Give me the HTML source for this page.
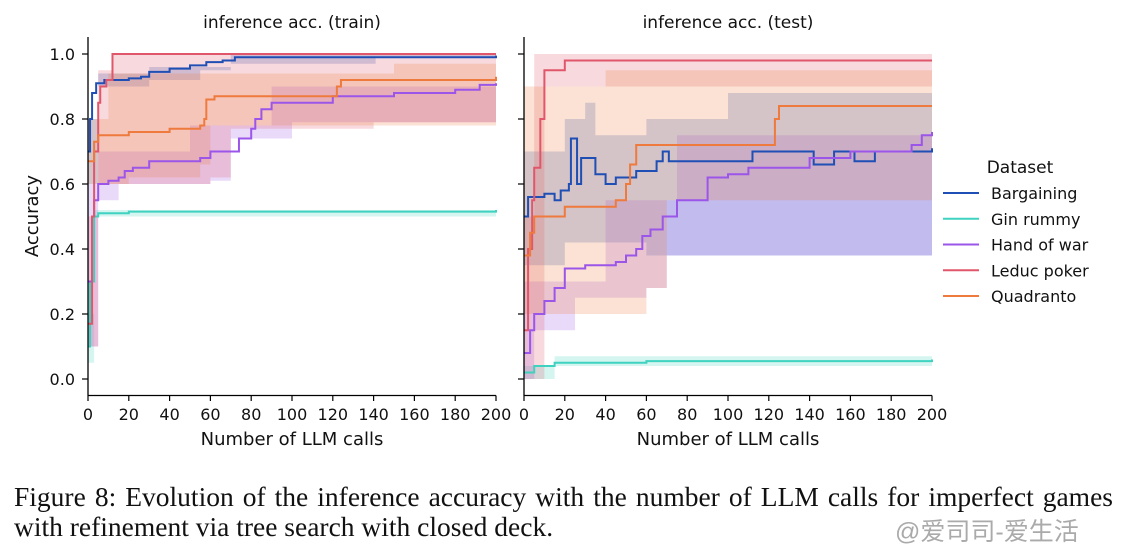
<!DOCTYPE html>
<html><head><meta charset="utf-8"><style>
html,body{margin:0;padding:0;background:#fff;}
body{width:1129px;height:553px;overflow:hidden;position:relative;font-family:"DejaVu Sans",sans-serif;}
.cap{position:absolute;left:14px;font-family:"Liberation Serif",serif;font-size:27.5px;color:#111;white-space:nowrap;}
</style></head><body>
<svg id="chart" width="1129" height="470" style="position:absolute;left:0;top:0" font-family="DejaVu Sans, sans-serif"></svg>
<div class="cap" style="top:481px;width:1099px;text-align:justify;text-align-last:justify;">Figure 8: Evolution of the inference accuracy with the number of LLM calls for imperfect games</div>
<div class="cap" style="top:511px">with refinement via tree search with closed deck.</div>
<div style="position:absolute;left:895px;top:512px;font-family:'Liberation Sans','Noto Sans CJK SC',sans-serif;font-size:25px;color:#aaa;">@爱司司-爱生活</div>
<script>
const seriesNames = ["Bargaining","Gin rummy","Hand of war","Leduc poker","Quadranto"];
const colors = ["#1f4fb4","#3fd2c0","#9b55e8","#e0566a","#ef7a3d"];
const xTicks = [0,20,40,60,80,100,120,140,160,180,200];
const yTicks = [0.0,0.2,0.4,0.6,0.8,1.0];
const panelTitles = ["inference acc. (train)","inference acc. (test)"];
// train panel
const trainMean = [
 [[0,0.70],[1,0.8],[2,0.88],[4,0.91],[8,0.92],[20,0.925],[26,0.93],[30,0.945],[40,0.955],[50,0.965],[58,0.975],[66,0.98],[72,0.99],[200,0.995]],
 [[0,0.1],[1,0.3],[3,0.5],[5,0.51],[20,0.515],[200,0.52]],
 [[0,0.3],[2,0.5],[3,0.55],[5,0.6],[10,0.61],[15,0.62],[18,0.64],[22,0.65],[30,0.67],[55,0.68],[60,0.7],[74,0.74],[80,0.77],[82,0.8],[85,0.83],[90,0.85],[120,0.87],[150,0.88],[180,0.89],[192,0.905],[200,0.91]],
 [[0,0.17],[2,0.5],[3,0.7],[5,0.85],[6,0.9],[9,0.92],[12,1.0],[200,1.0]],
 [[0,0.67],[3,0.73],[5,0.75],[20,0.76],[40,0.77],[55,0.78],[57,0.8],[58,0.86],[62,0.87],[120,0.87],[122,0.9],[124,0.92],[200,0.93]]
];
const trainLo = [
 [[0,0.6],[5,0.9],[30,0.92],[55,0.95],[70,0.97],[140,0.97],[141,0.99],[200,0.99]],
 [[0,0.05],[3,0.5],[200,0.51]],
 [[0,0.1],[5,0.55],[15,0.6],[60,0.61],[70,0.74],[100,0.79],[200,0.79]],
 [[0,0.1],[5,0.6],[60,0.62],[70,0.77],[140,0.79],[200,0.79]],
 [[0,0.6],[20,0.62],[55,0.66],[60,0.78],[200,0.78]]
];
const trainHi = [
 [[0,0.8],[5,0.94],[30,0.96],[70,1.0],[200,1.0]],
 [[0,0.2],[3,0.52],[200,0.53]],
 [[0,0.6],[5,0.7],[50,0.78],[90,0.9],[200,0.98]],
 [[0,0.5],[5,0.95],[12,1.0],[200,1.0]],
 [[0,0.8],[10,0.94],[150,0.97],[200,0.98]]
];
// test panel
const testMean = [
 [[0,0.5],[2,0.56],[10,0.57],[15,0.55],[18,0.58],[22,0.60],[23,0.74],[25,0.74],[26,0.6],[28,0.68],[32,0.68],[35,0.63],[40,0.60],[45,0.62],[55,0.64],[65,0.67],[68,0.70],[71,0.67],[110,0.67],[112,0.7],[140,0.7],[142,0.66],[150,0.66],[152,0.7],[160,0.7],[162,0.67],[170,0.67],[172,0.7],[200,0.71]],
 [[0,0.02],[5,0.04],[15,0.05],[60,0.055],[200,0.06]],
 [[0,0.08],[3,0.15],[5,0.2],[10,0.24],[15,0.28],[20,0.34],[30,0.35],[45,0.36],[50,0.38],[55,0.4],[58,0.44],[62,0.46],[68,0.5],[75,0.55],[90,0.62],[100,0.63],[110,0.65],[140,0.68],[160,0.7],[190,0.72],[195,0.75],[200,0.76]],
 [[0,0.15],[2,0.4],[4,0.55],[5,0.65],[8,0.8],[10,0.95],[20,0.98],[200,0.98]],
 [[0,0.38],[3,0.45],[5,0.5],[20,0.53],[45,0.55],[50,0.6],[52,0.66],[55,0.72],[120,0.72],[123,0.8],[125,0.84],[200,0.84]]
];
const testLo = [
 [[0,0.35],[20,0.42],[60,0.38],[120,0.38],[200,0.38]],
 [[0,0.0],[15,0.04],[200,0.05]],
 [[0,0.0],[5,0.15],[25,0.25],[60,0.28],[70,0.38],[200,0.4]],
 [[0,0.0],[10,0.9],[200,0.95]],
 [[0,0.2],[60,0.28],[70,0.55],[200,0.55]]
];
const testHi = [
 [[0,0.7],[20,0.8],[30,0.85],[35,0.75],[60,0.8],[100,0.88],[200,0.9]],
 [[0,0.04],[15,0.07],[200,0.07]],
 [[0,0.3],[40,0.55],[75,0.75],[200,0.85]],
 [[0,0.5],[5,1.0],[200,1.0]],
 [[0,0.9],[40,0.95],[200,0.95]]
];
const NS="http://www.w3.org/2000/svg";
const svg=document.getElementById('chart');
function mk(tag,attrs,parent){const e=document.createElementNS(NS,tag);for(const k in attrs)e.setAttribute(k,attrs[k]);(parent||svg).appendChild(e);return e;}
const yScale=v=>379-v*325;
function stepPts(arr,xScale){
  const out=[];
  for(let i=0;i<arr.length;i++){
    if(i>0) out.push(xScale(arr[i][0])+','+yScale(arr[i-1][1]));
    out.push(xScale(arr[i][0])+','+yScale(arr[i][1]));
  }
  return out;
}
function drawPanel(p,x0,mean,lo,hi){
  const xScale=v=>x0+v*(408/200);
  const g=mk('g',{});
  
  
  for(let s=0;s<5;s++){
    const up=stepPts(hi[s],xScale);
    const dn=stepPts(lo[s],xScale).reverse();
    const band=mk('polygon',{points:up.concat(dn).join(' '),fill:colors[s],'fill-opacity':0.22,stroke:'none'},g);
    
    
  }
  for(let s=0;s<5;s++){
    const pts=stepPts(mean[s],xScale).join(' ');
    const ln=mk('polyline',{points:pts,fill:'none',stroke:colors[s],'stroke-width':2},g);
    
    
  }
  mk('line',{x1:x0,y1:37,x2:x0,y2:395.5,stroke:'#000','stroke-width':1.3},g);
  mk('line',{x1:x0,y1:395.5,x2:x0+408,y2:395.5,stroke:'#000','stroke-width':1.3},g);
  xTicks.forEach(t=>{
    const x=xScale(t);
    mk('line',{x1:x,y1:395.5,x2:x,y2:401,stroke:'#000','stroke-width':1.2},g);
    const tx=mk('text',{x:x,y:420,'text-anchor':'middle','font-size':16,fill:'#111'},g);
    tx.textContent=t;
    
    
  });
  yTicks.forEach(t=>{
    const y=yScale(t);
    mk('line',{x1:x0-6,y1:y,x2:x0,y2:y,stroke:'#000','stroke-width':1.2},g);
    if(p===0){
      const tx=mk('text',{x:x0-13,y:y+6,'text-anchor':'end','font-size':16,fill:'#111'},g);
      tx.textContent=t.toFixed(1);
      
      
    }
  });
  const ti=mk('text',{x:x0+204,y:28,'text-anchor':'middle','font-size':17,fill:'#111'},g);
  ti.textContent=panelTitles[p];
  
  
  const xl=mk('text',{x:x0+204,y:445,'text-anchor':'middle','font-size':18,fill:'#111'},g);
  xl.textContent='Number of LLM calls';
  
  
}
drawPanel(0,88,trainMean,trainLo,trainHi);
drawPanel(1,524,testMean,testLo,testHi);
const yl=mk('text',{x:0,y:0,'text-anchor':'middle','font-size':18,fill:'#111',transform:'translate(38,216) rotate(-90)'});
yl.textContent='Accuracy';


const lt=mk('text',{x:1020,y:173,'text-anchor':'middle','font-size':17,fill:'#111'});
lt.textContent='Dataset';


seriesNames.forEach((n,i)=>{
  const y=193+i*25.75;
  const g=mk('g',{});
  
  
  mk('line',{x1:943,y1:y,x2:979,y2:y,stroke:colors[i],'stroke-width':2},g);
  const t=mk('text',{x:991,y:y+6,'font-size':16,fill:'#111'},g);
  t.textContent=n;
});
</script>
</body></html>
